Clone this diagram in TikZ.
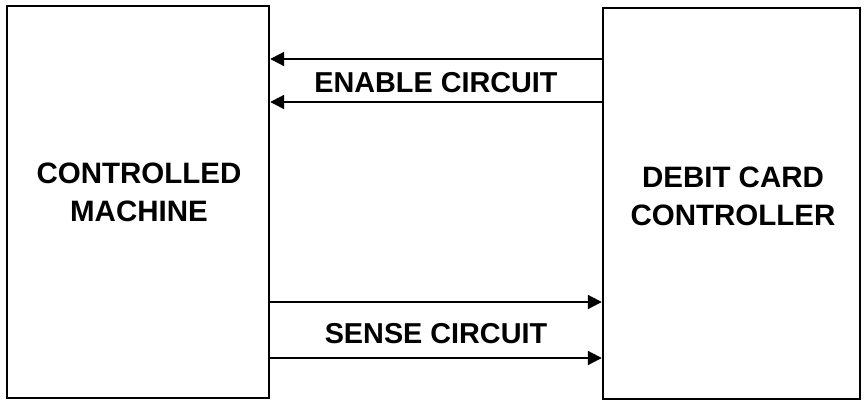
\documentclass[tikz,border=0pt]{standalone}
\usepackage{fontspec}
\setmainfont{Liberation Sans}
\usetikzlibrary{arrows.meta}
\begin{document}
\begin{tikzpicture}[x=1pt,y=-1pt,
  box/.style={draw, line width=2.4pt, inner sep=0pt},
  lbl/.style={font=\bfseries\fontsize{29.5}{38}\selectfont, align=center, inner sep=0pt},
  clbl/.style={font=\bfseries\fontsize{28.8}{38}\selectfont, align=center, inner sep=0pt},
  arr/.style={line width=2pt, -{Triangle[length=14pt,width=14pt]}}]
\useasboundingbox (0,0) rectangle (865,409);
\node[box, minimum width=262pt, minimum height=392pt] (L) at (138,202) {};
\node[box, minimum width=257pt, minimum height=391pt] (R) at (731.5,203.5) {};
\node[lbl] (lt) at (139,192) {CONTROLLED\\MACHINE};
\node[lbl] (rt) at (733,196) {DEBIT CARD\\CONTROLLER};
\coordinate (y1) at (0,59);
\coordinate (y2) at (0,102);
\coordinate (y3) at (0,302);
\coordinate (y4) at (0,358);
\draw[arr] (R.west |- y1) -- (L.east |- y1);
\draw[arr] (R.west |- y2) -- (L.east |- y2);
\draw[arr] (L.east |- y3) -- (R.west |- y3);
\draw[arr] (L.east |- y4) -- (R.west |- y4);
\node[clbl] (en) at (436,83) {ENABLE CIRCUIT};
\node[clbl] (se) at (436,334) {SENSE CIRCUIT};
\end{tikzpicture}
\end{document}
